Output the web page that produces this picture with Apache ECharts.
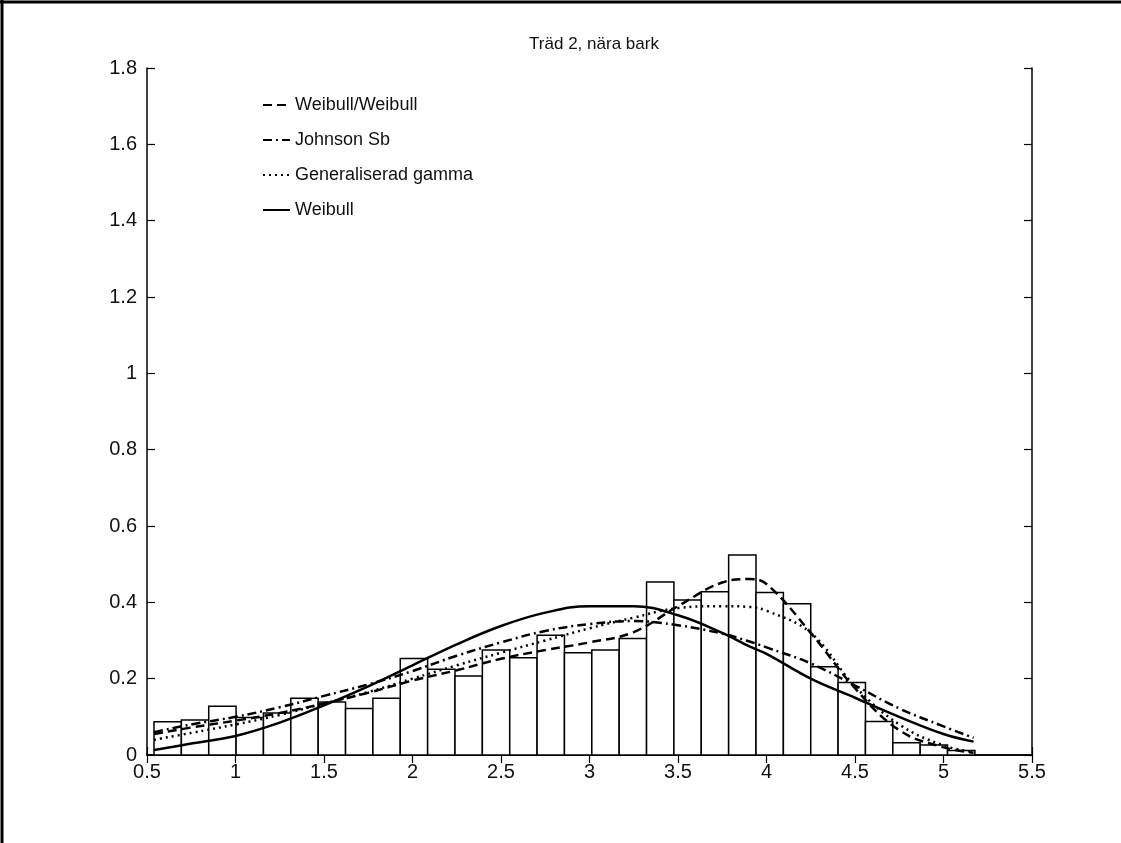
<!DOCTYPE html>
<html>
<head>
<meta charset="utf-8">
<script src="https://cdn.jsdelivr.net/npm/echarts@6/dist/echarts.min.js"></script>
<style>html,body{margin:0;padding:0;background:#fff;}#c{width:1121px;height:843px;}</style>
</head>
<body>
<div id="c"></div>
<script>
// Histogram: 30 bins
const binStart = 0.5395;
const binWidth = 0.1546;
const binHeights = [0.087,0.092,0.128,0.098,0.110,0.149,0.139,0.122,0.149,0.253,
                    0.225,0.207,0.275,0.255,0.314,0.268,0.275,0.305,0.453,0.406,
                    0.428,0.524,0.426,0.396,0.231,0.190,0.088,0.032,0.026,0.012];
// Curves sampled at these x values
const curveX = [0.54,0.75,1.0,1.25,1.5,1.75,2.0,2.25,2.5,2.75,3.0,3.25,3.5,3.75,3.9,4.0,4.25,4.5,4.75,5.0,5.17];
const weibullWeibull = [0.055,0.072,0.09,0.11,0.135,0.163,0.195,0.222,0.252,0.275,0.295,0.322,0.39,0.452,0.461,0.448,0.32,0.175,0.065,0.02,0.006];
const johnsonSb     = [0.06,0.08,0.1,0.125,0.155,0.185,0.22,0.26,0.295,0.325,0.343,0.351,0.34,0.318,0.298,0.282,0.24,0.182,0.122,0.075,0.045];
const genGamma      = [0.04,0.058,0.08,0.105,0.135,0.165,0.2,0.235,0.268,0.3,0.332,0.36,0.385,0.39,0.388,0.378,0.32,0.18,0.08,0.025,0.008];
const weibull       = [0.013,0.03,0.05,0.085,0.13,0.18,0.235,0.29,0.338,0.373,0.39,0.39,0.366,0.32,0.285,0.265,0.2,0.15,0.1,0.055,0.035];
const seriesNames = ['Weibull/Weibull','Johnson Sb','Generaliserad gamma','Weibull'];
const xTicks = [0.5,5.5,0.5];
const yTicks = [0,1.8,0.2];

const bins = binHeights.map((h,i)=>[binStart+i*binWidth, binStart+(i+1)*binWidth, h]);
const pairs = arr => curveX.map((x,i)=>[x,arr[i]]);

const font = '"Liberation Sans", Arial, sans-serif';
const chart = echarts.init(document.getElementById('c'), null, {renderer:'canvas'});
const axisLine = {show:true, lineStyle:{color:'#000', width:1.5}};
const tick = {show:true, inside:true, length:8, lineStyle:{color:'#000', width:1.2}};
const grid = {left:147, right:89, top:68, bottom:88};
function line(name, data, type, width){
  return {name, type:'line', data, smooth:0.4, symbol:'none', showSymbol:false,
    lineStyle:{color:'#000', width, type}, itemStyle:{color:'#000'}, z:5, animation:false};
}
chart.setOption({
  animation:false,
  backgroundColor:'#fff',
  title:{text:'Träd 2, nära bark', left:589, top:31, textAlign:'center',
    textStyle:{fontFamily:font, fontWeight:'normal', fontSize:17, color:'#111'}},
  grid,
  legend:{orient:'vertical', left:257, top:91, itemWidth:27, itemHeight:12, itemGap:17,
    itemStyle:{opacity:0},
    textStyle:{fontFamily:font, fontSize:18, color:'#111'}, data:seriesNames},
  xAxis:[
    {type:'value', min:xTicks[0], max:xTicks[1], interval:xTicks[2], axisLine, axisTick:tick,
      splitLine:{show:false}, axisLabel:{color:'#111', fontFamily:font, fontSize:20, margin:7}},
    {type:'value', position:'top', min:xTicks[0], max:xTicks[1], interval:xTicks[2], axisLine, axisTick:tick,
      splitLine:{show:false}, axisLabel:{show:false}}
  ],
  yAxis:[
    {type:'value', min:yTicks[0], max:yTicks[1], interval:yTicks[2], axisLine, axisTick:tick,
      splitLine:{show:false}, axisLabel:{color:'#111', fontFamily:font, fontSize:20, margin:10}},
    {type:'value', position:'right', min:yTicks[0], max:yTicks[1], interval:yTicks[2], axisLine, axisTick:tick,
      splitLine:{show:false}, axisLabel:{show:false}}
  ],
  graphic:[
    {type:'line', shape:{x1:0,y1:2,x2:1121,y2:2}, style:{stroke:'#000', lineWidth:3}, z:100},
    {type:'line', shape:{x1:2,y1:0,x2:2,y2:843}, style:{stroke:'#000', lineWidth:3}, z:100}
  ],
  series:[
    {type:'custom', name:'hist', data:bins, z:2,
      renderItem:function(params, api){
        const p0 = api.coord([api.value(0), api.value(2)]);
        const p1 = api.coord([api.value(1), 0]);
        return {type:'rect', shape:{x:p0[0], y:p0[1], width:p1[0]-p0[0], height:p1[1]-p0[1]},
          style:{fill:'#fff', stroke:'#000', lineWidth:1.5}};
      }, encode:{x:[0,1], y:2}, animation:false},
    line(seriesNames[0], pairs(weibullWeibull), [9,5], 2.5),
    line(seriesNames[1], pairs(johnsonSb), [9,4,2,4], 2.5),
    line(seriesNames[2], pairs(genGamma), [2,4], 2.5),
    line(seriesNames[3], pairs(weibull), 'solid', 2.5)
  ]
});
</script>
</body>
</html>
